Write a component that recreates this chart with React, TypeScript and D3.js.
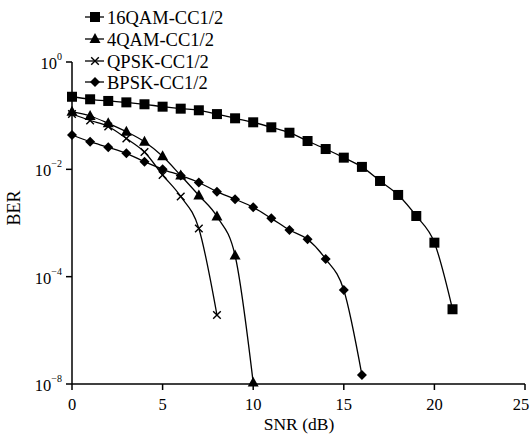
import React from "react";
import * as d3 from "d3";

const snr16 = [0,1,2,3,4,5,6,7,8,9,10,11,12,13,14,15,16,17,18,19,20,21];
const ber16QAM = [0.225,0.202,0.188,0.177,0.163,0.147,0.135,0.126,0.107,0.0893,0.0752,0.0607,0.0481,0.0337,0.0239,0.0165,0.0111,0.00607,0.00333,0.00135,0.00043,2.47e-5];
const snr4 = [0,1,2,3,4,5,6,7,8,9,10];
const ber4QAM = [0.1186,0.0986,0.0721,0.0503,0.0327,0.0175,0.00767,0.00326,0.00132,0.000248,1.06e-6];
const snrQ = [0,1,2,3,4,5,6,7,8];
const berQPSK = [0.1074,0.0813,0.0628,0.0376,0.021,0.00785,0.00312,0.00079,1.93e-5];
const snrB = [0,1,2,3,4,5,6,7,8,9,10,11,12,13,14,15,16];
const berBPSK = [0.0436,0.0327,0.0257,0.0199,0.01387,0.01002,0.00767,0.00569,0.00383,0.00277,0.00196,0.00122,0.000741,0.000497,0.000213,5.65e-5,1.47e-6];

const seriesNames = ["16QAM-CC1/2", "4QAM-CC1/2", "QPSK-CC1/2", "BPSK-CC1/2"];
const markerKinds = ["square", "triangle", "cross", "diamond"];

const xTicks = [0, 5, 10, 15, 20, 25];
const yTickValues = [1, 1e-2, 1e-4, 1e-6];
const yTickExponents = ["0", "\u22122", "\u22124", "\u22128"];

const W = 530, H = 436;
const x = d3.scaleLinear().domain([0, 25]).range([72, 525]);
const y = d3.scaleLog().domain([1e-6, 1]).range([384, 62]);

const FONT = "Liberation Serif, serif";
const ts = { fontFamily: FONT };

function Marker({ kind, cx, cy }: { kind: string; cx: number; cy: number }) {
  if (kind === "square") {
    const s = 10;
    return <rect x={cx - s / 2} y={cy - s / 2} width={s} height={s} fill="#000" />;
  }
  if (kind === "triangle") {
    const s = 11;
    const h = s * 0.9;
    const p = `M${cx},${cy - h * 0.6}L${cx + s / 2},${cy + h * 0.4}L${cx - s / 2},${cy + h * 0.4}Z`;
    return <path d={p} fill="#000" />;
  }
  if (kind === "diamond") {
    const r = 5;
    const p = `M${cx},${cy - r}L${cx + r},${cy}L${cx},${cy + r}L${cx - r},${cy}Z`;
    return <path d={p} fill="#000" />;
  }
  const r = 3.8;
  const p = `M${cx - r},${cy - r}L${cx + r},${cy + r}M${cx - r},${cy + r}L${cx + r},${cy - r}`;
  return <path d={p} stroke="#000" strokeWidth={1.4} fill="none" />;
}

export default function App() {
  const series = [
    { xs: snr16, ys: ber16QAM },
    { xs: snr4, ys: ber4QAM },
    { xs: snrQ, ys: berQPSK },
    { xs: snrB, ys: berBPSK },
  ];
  const line = d3
    .line<[number, number]>()
    .x((d) => x(d[0]))
    .y((d) => y(d[1]))
    .curve(d3.curveMonotoneX);

  return (
    <svg width={W} height={H} style={{ position: "absolute", left: 0, top: 0, background: "#fff", fontFamily: FONT }}>
      {/* axes */}
      <line x1={x(0)} x2={x(25)} y1={y(1e-6)} y2={y(1e-6)} stroke="#000" strokeWidth={1.5} />
      <line x1={x(0)} x2={x(0)} y1={y(1)} y2={y(1e-6)} stroke="#000" strokeWidth={1.5} />
      {xTicks.map((t) => (
        <g key={"xt" + t}>
          <line x1={x(t)} x2={x(t)} y1={y(1e-6)} y2={y(1e-6) + 6} stroke="#000" strokeWidth={1.5} />
          <text x={Math.min(x(t), W - 9)} y={410} textAnchor="middle" fontSize={16.5} style={ts}>{t}</text>
        </g>
      ))}
      {yTickValues.map((v, i) => (
        <g key={"yt" + i}>
          <line x1={x(0) - 6} x2={x(0)} y1={y(v)} y2={y(v)} stroke="#000" strokeWidth={1.5} />
          <text x={62} y={y(v) + 7} textAnchor="end" fontSize={16.5} style={ts}>
            10<tspan fontSize={10} dy={-9}>{yTickExponents[i]}</tspan>
          </text>
        </g>
      ))}
      <text x={299} y={430} textAnchor="middle" fontSize={17.5} style={ts}>SNR (dB)</text>
      <text transform="translate(20,208) rotate(-90)" textAnchor="middle" fontSize={18} style={ts}>BER</text>

      {/* series */}
      {series.map((s, i) => {
        const pts: [number, number][] = s.xs.map((xv, j) => [xv, s.ys[j]]);
        return (
          <g key={"s" + i}>
            <path d={line(pts) || ""} fill="none" stroke="#000" strokeWidth={1.3} />
            {pts.map((p, j) => (
              <Marker key={j} kind={markerKinds[i]} cx={x(p[0])} cy={y(p[1])} />
            ))}
          </g>
        );
      })}

      {/* legend */}
      {seriesNames.map((name, i) => {
        const ly = [17, 39, 61, 82][i];
        return (
          <g key={"lg" + i}>
            <line x1={85} x2={104} y1={ly} y2={ly} stroke="#000" strokeWidth={1.3} />
            <Marker kind={markerKinds[i]} cx={95} cy={ly} />
            <text x={107} y={ly + 6.5} fontSize={18.5} style={ts}>{name}</text>
          </g>
        );
      })}
    </svg>
  );
}
